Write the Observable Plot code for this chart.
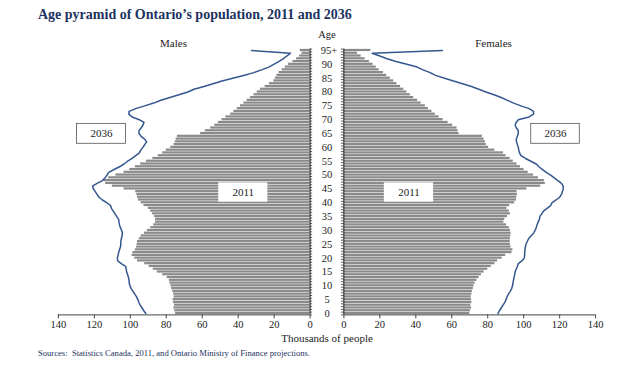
<!DOCTYPE html>
<html><head><meta charset="utf-8">
<script src="https://cdn.jsdelivr.net/npm/d3@7"></script>
<script src="https://cdn.jsdelivr.net/npm/@observablehq/plot@0.6"></script>
<style>
body{margin:0;background:#fff;width:617px;height:368px;overflow:hidden;font-family:"Liberation Serif",serif}
#title{height:28px;line-height:30px;padding-left:38px;font-weight:bold;font-size:14px;color:#1c3260;white-space:nowrap}
#src{padding-left:38px;font-size:8.6px;line-height:11px;color:#1c3260;margin-top:-3px;white-space:nowrap}
svg{display:block}
</style></head><body>
<div id="title">Age pyramid of Ontario’s population, 2011 and 2036</div>
<div id="chart"></div>
<div id="src">Sources:&nbsp; Statistics Canada, 2011, and Ontario Ministry of Finance projections.</div>
<script>
// Single years of age 0..95 (95 = 95+)
const ages = d3.range(96);
const ageTicks = [0,5,10,15,20,25,30,35,40,45,50,55,60,65,70,75,80,85,90];
const topAgeLabel = "95+";
const xTickValues = [0,20,40,60,80,100,120,140];

// Thousands of people, 2011 (bars)
const male2011 = [74.8,75.3,75.8,75.4,76.0,76.2,75.6,75.9,76.4,77.0,77.4,78.0,78.3,79.5,82.0,85.0,87.2,89.5,92.0,96.0,
  97.5,99.0,98.5,97.2,96.5,96.2,96.0,95.0,94.0,92.2,90.5,88.6,87.0,86.0,85.9,86.5,87.6,88.7,90.0,92.4,
  94.0,95.5,96.0,96.4,97.0,103.5,110.0,113.7,114.5,112.0,108.0,103.5,100.3,97.2,94.2,91.0,87.5,84.5,82.0,80.0,
  77.5,75.7,75.0,74.5,73.8,60.9,58.3,55.3,53.0,51.0,49.0,46.8,44.2,42.4,40.5,38.7,36.8,35.0,33.1,31.2,
  29.4,27.6,25.0,22.6,20.2,19.3,18.4,17.2,15.5,13.8,12.0,9.5,7.5,5.8,4.5,5.5];
const female2011 = [70.0,70.4,71.0,70.6,71.2,71.0,70.8,71.2,71.5,72.0,72.4,73.0,74.0,75.2,76.5,78.0,80.0,82.0,84.0,85.5,
  88.0,90.0,93.5,94.0,93.0,92.6,92.5,92.6,92.8,93.0,92.6,92.0,90.5,89.0,89.5,91.0,92.6,92.0,90.7,92.2,
  95.0,96.0,96.2,96.5,96.3,101.8,109.5,112.0,111.5,108.2,105.5,102.5,100.2,98.2,96.3,94.2,92.5,90.2,88.8,84.0,
  80.5,79.2,78.7,78.0,77.0,64.0,63.5,62.9,60.5,58.0,55.2,53.0,50.9,49.0,47.0,45.3,43.0,41.0,38.8,37.0,
  35.0,33.3,31.5,29.5,27.7,25.8,23.8,22.0,19.6,18.0,16.2,14.2,11.8,9.6,7.6,15.0];

// Thousands of people, 2036 projection (lines)
const male2036 = [91.4,92.5,93.5,94.5,95.2,95.8,96.5,97.5,98.5,99.5,100.2,100.6,100.7,101.0,101.5,102.0,102.3,102.6,105.0,107.0,
  107.2,106.8,106.5,106.0,105.5,105.3,105.3,105.0,104.6,104.4,104.8,105.5,106.0,106.3,106.5,107.5,108.5,109.5,110.5,111.0,
  113.0,115.5,117.4,118.5,119.5,120.5,121.0,118.5,115.5,114.0,113.0,112.0,109.0,106.0,103.5,101.5,99.0,97.0,95.0,94.2,
  93.0,92.0,90.9,92.0,94.0,95.2,95.2,94.0,93.0,92.4,95.0,99.0,100.8,100.7,97.0,92.0,87.0,83.0,78.0,73.0,
  68.0,64.6,59.0,54.0,49.0,43.0,37.0,31.3,27.0,23.0,20.2,17.5,15.0,13.0,10.9,32.6];
const female2036 = [85.7,86.5,87.5,88.5,89.5,90.2,90.7,91.5,92.5,93.3,93.8,94.0,94.3,94.6,95.0,95.2,95.8,96.5,97.0,99.0,
  100.3,100.5,100.6,100.7,100.9,101.3,102.0,102.7,104.0,105.5,106.3,107.0,107.4,108.0,108.7,109.0,110.0,111.0,113.0,115.0,
  115.7,118.0,120.0,121.0,121.5,122.0,122.0,121.0,119.0,117.0,115.0,112.5,110.5,108.5,107.0,104.0,101.0,98.5,97.7,97.3,
  97.0,96.5,96.0,95.9,96.5,97.0,97.0,96.0,95.2,95.8,97.0,103.0,105.5,105.5,103.0,98.5,94.4,91.0,87.5,83.5,
  79.0,75.0,71.0,66.0,61.0,56.0,51.0,48.0,44.0,40.7,35.0,29.0,24.0,20.0,15.7,54.8];

const G = 18.8; // gap between the two halves, in thousands
const ink = "#222";
const lineColor = "#34578f";
const barColor = "#8a8a8a";

const xticks = [...xTickValues.map(v => -v), ...xTickValues.map(v => v + G)];
const fmt = d => d <= 0 ? String(Math.round(-d)) : String(Math.round(d - G));
const bounds = d3.range(-0.5, 96, 1);

const chart = Plot.plot({
  width: 617, height: 323,
  marginLeft: 57.9, marginRight: 21.9, marginTop: 20.6, marginBottom: 36.6,
  style: {fontFamily: "Liberation Serif, serif", fontSize: "10.5px", color: ink, background: "#fff"},
  x: {domain: [-140, 140 + G], axis: null},
  y: {domain: [-0.5, 95.5], axis: null},
  marks: [
    Plot.rect(ages, {x1: 0, x2: i => -male2011[i], y1: i => i - 0.4, y2: i => i + 0.4, fill: barColor}),
    Plot.rect(ages, {x1: G, x2: i => G + female2011[i], y1: i => i - 0.4, y2: i => i + 0.4, fill: barColor}),
    // 2011 labels
    Plot.rect([0], {x1: -50.8, x2: -23.5, y1: 40.2, y2: 47.2, fill: "#fff"}),
    Plot.rect([0], {x1: 41.3, x2: 68.7, y1: 40.2, y2: 47.2, fill: "#fff"}),
    Plot.text(["2011"], {x: (-50.8 - 23.5) / 2, y: 43.7, fontSize: 11, fill: ink}),
    Plot.text(["2011"], {x: (41.3 + 68.7) / 2, y: 43.7, fontSize: 11, fill: ink}),
    // 2036 lines
    Plot.line(ages, {x: i => -male2036[i], y: i => i, stroke: lineColor, strokeWidth: 1.5}),
    Plot.line(ages, {x: i => G + female2036[i], y: i => i, stroke: lineColor, strokeWidth: 1.5}),
    Plot.rect([0], {x1: -129.7, x2: -102.4, y1: 61.3, y2: 68.5, fill: "#fff", stroke: "#555", strokeWidth: 0.8}),
    Plot.rect([0], {x1: 123.0, x2: 150.0, y1: 61.3, y2: 68.5, fill: "#fff", stroke: "#555", strokeWidth: 0.8}),
    Plot.text(["2036"], {x: (-129.7 - 102.4) / 2, y: 64.9, fontSize: 11, fill: ink}),
    Plot.text(["2036"], {x: (123.0 + 150.0) / 2, y: 64.9, fontSize: 11, fill: ink}),
    // central age axis
    Plot.ruleX([0, G], {y1: -0.5, y2: 95.5, stroke: ink, strokeWidth: 1}),
    Plot.ruleY(bounds, {x1: 0, x2: 1.4, stroke: ink, strokeWidth: 0.7}),
    Plot.ruleY(bounds, {x1: G - 1.4, x2: G, stroke: ink, strokeWidth: 0.7}),
    Plot.text(ageTicks, {x: G / 2, y: d => d, text: d => String(d), fill: ink}),
    Plot.text([topAgeLabel], {x: G / 2, y: 95, dx: 2, fill: ink}),
    Plot.text(["Age"], {x: G / 2, y: 100.8, fill: ink, fontSize: 10.5}),
    Plot.text(["Males"], {x: -76, y: 97.6, fill: ink, fontSize: 11}),
    Plot.text(["Females"], {x: 102, y: 97.6, fill: ink, fontSize: 11}),
    // bottom axis
    Plot.ruleY([-0.5], {x1: -140, x2: 0, stroke: "#444"}),
    Plot.ruleY([-0.5], {x1: G, x2: G + 140, stroke: "#444"}),
    Plot.axisX(xticks, {tickFormat: fmt, tickSize: 4, tickPadding: 2, label: null, stroke: "#444", fill: ink}),
    Plot.text(["Thousands of people"], {frameAnchor: "bottom", dy: 27, fontSize: 11, fill: ink})
  ]
});
document.getElementById("chart").appendChild(chart);
</script>
</body></html>
